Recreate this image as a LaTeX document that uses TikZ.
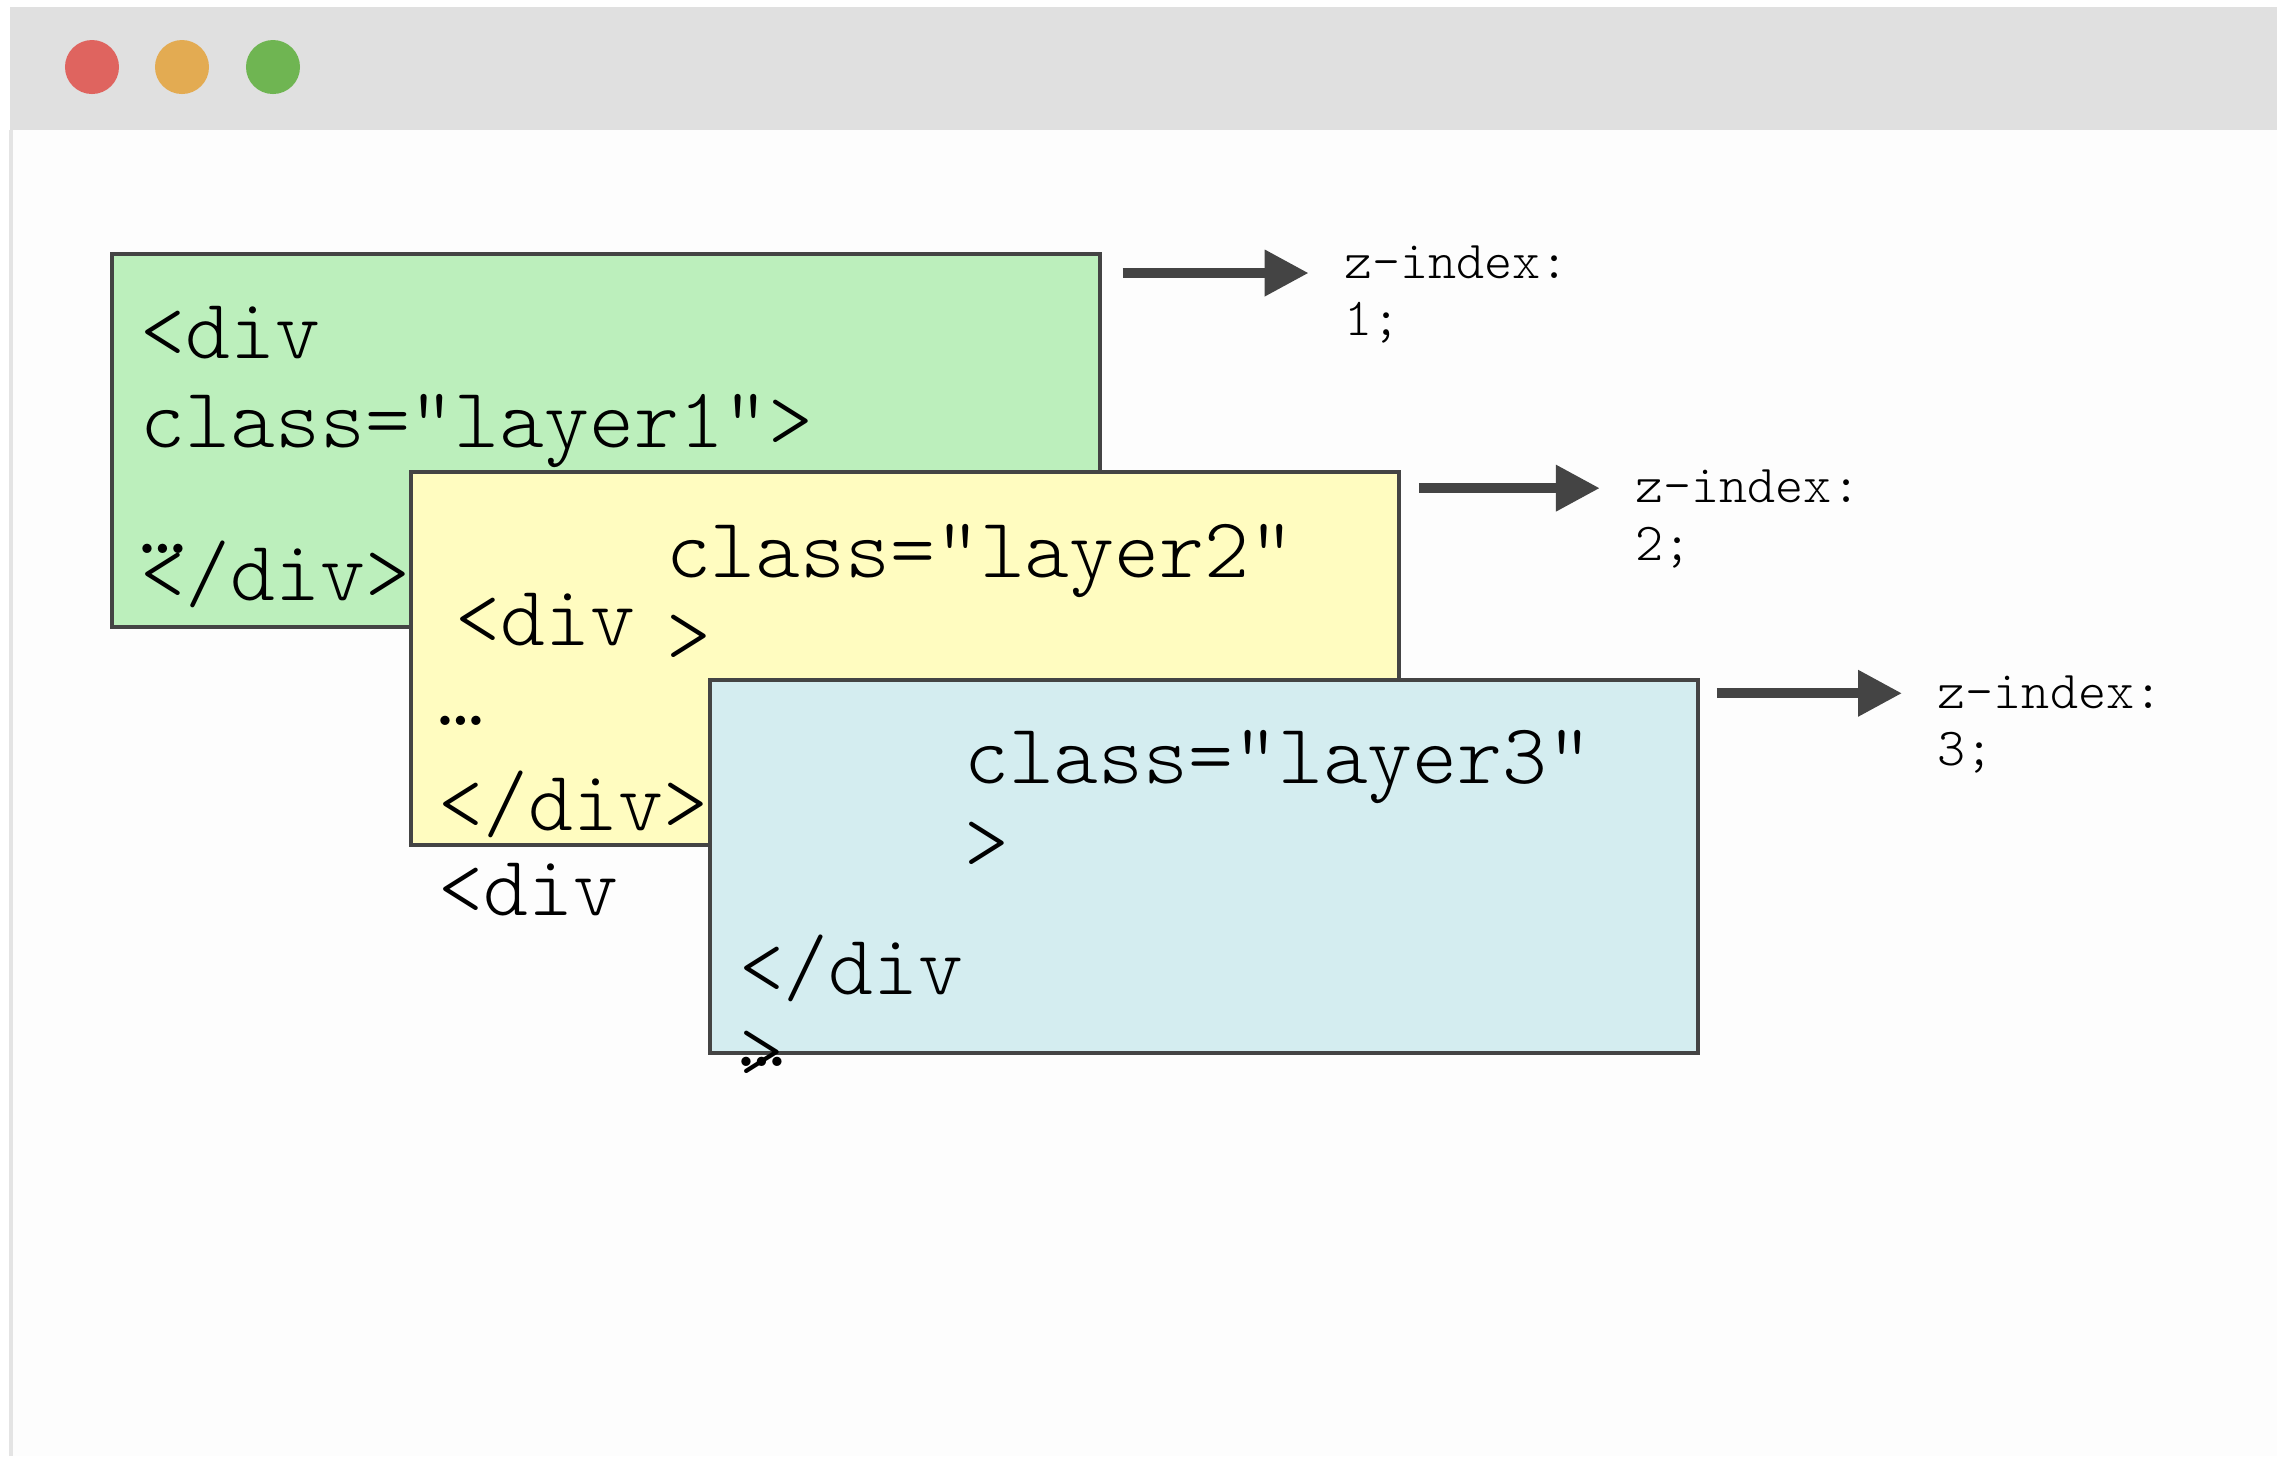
\documentclass[tikz,border=0pt]{standalone}
\usepackage{fontspec}
\setmonofont{Latin Modern Mono Light}
\usetikzlibrary{arrows.meta}

\definecolor{barGray}{HTML}{E0E0E0}
\definecolor{bodyWhite}{HTML}{FDFDFD}
\definecolor{edgeLight}{HTML}{E4E4E4}
\definecolor{edgeGray}{HTML}{444444}
\definecolor{dotRed}{HTML}{DF645F}
\definecolor{dotOrange}{HTML}{E3AB52}
\definecolor{dotGreen}{HTML}{6FB552}
\definecolor{l1Fill}{HTML}{BCEFBC}
\definecolor{l2Fill}{HTML}{FFFCC0}
\definecolor{l3Fill}{HTML}{D4EDF0}

\begin{document}
\begin{tikzpicture}[x=0.01cm,y=-0.01cm,
        layer/.style={draw=edgeGray,line width=0.04cm,minimum width=9.87cm,minimum height=3.73cm,inner sep=0,outer sep=0,anchor=north west},
        code/.style={font=\ttfamily\fontsize{24.3}{29}\selectfont,inner sep=0,anchor=base west},
        zlabel/.style={font=\ttfamily\fontsize{15.2}{18}\selectfont,inner sep=0,anchor=base west},
        zarrow/.style={-{Triangle[length=12.5pt,width=12.5pt]},line width=2.85pt,draw=edgeGray,shorten >=0.35cm}]
            \useasboundingbox (0,0) rectangle (2277,1456);
            \fill[white] (0,0) rectangle (2277,1456);

            % browser window
            \fill[bodyWhite] (10,130) rectangle (2277,1456);
            \fill[barGray] (10,7) rectangle (2277,130);
            \draw[edgeLight, line width=0.03cm] (11,130) -- (11,1456);
            \fill[dotRed] (92,67) circle (0.27cm);
            \fill[dotOrange] (182,67) circle (0.27cm);
            \fill[dotGreen] (273,67) circle (0.27cm);

            % layer 1
            \node[layer, fill=l1Fill] (l1) at (112,254) {};
            \node[code] (l1a) [at = {(l1.north west)}, xshift = 0.28cm, yshift = -1.04cm]{<div};
            \node[code] (l1b) [at = {(l1.north west)}, xshift = 0.28cm, yshift = -1.93cm]{class="layer1">};
            \node[code] (l1c) [at = {(l1.north west)}, xshift = 0.28cm, yshift = -2.99cm]{…};
            \node[code] (l1d) [at = {(l1.north west)}, xshift = 0.28cm, yshift = -3.46cm]{</div>};
            \coordinate (s1) at ([xshift = 0.23cm, yshift = -0.19cm]l1.north east);
            \node[zlabel] (z1) [at = {(l1.north east)}, xshift = 2.44cm, yshift = -0.24cm]{z-index:};
            \node[zlabel] (z1n) [at = {(z1.base west)}, yshift = -0.57cm]{1;};
            \draw[zarrow] (s1) -- (s1 -| z1.west);

            % layer 2
            \node[layer, fill=l2Fill] (l2) [at = {(l1.north west)}, xshift = 2.99cm, yshift = -2.18cm]{};
            \node[code] (l2a) [at = {(l2.north west)}, xshift = 2.54cm, yshift = -1.05cm]{class="layer2"};
            \node[code] (l2b) [at = {(l2.north west)}, xshift = 0.44cm, yshift = -1.73cm]{<div};
            \node[code] (l2c) [at = {(l2.north west)}, xshift = 2.54cm, yshift = -1.90cm]{>};
            \node[code] (l2d) [at = {(l2.north west)}, xshift = 0.27cm, yshift = -2.53cm]{…};
            \node[code] (l2e) [at = {(l2.north west)}, xshift = 0.27cm, yshift = -3.58cm]{</div>};
            \node[code] (l2f) [at = {(l2.north west)}, xshift = 0.27cm, yshift = -4.43cm]{<div};
            \coordinate (s2) at ([xshift = 0.20cm, yshift = -0.16cm]l2.north east);
            \node[zlabel] (z2) [at = {(l2.north east)}, xshift = 2.36cm, yshift = -0.30cm]{z-index:};
            \node[zlabel] (z2n) [at = {(z2.base west)}, yshift = -0.58cm]{2;};
            \draw[zarrow] (s2) -- (s2 -| z2.west);

            % layer 3
            \node[layer, fill=l3Fill] (l3) [at = {(l2.north west)}, xshift = 2.99cm, yshift = -2.08cm]{};
            \node[code] (l3a) [at = {(l3.north west)}, xshift = 2.53cm, yshift = -1.03cm]{class="layer3"};
            \node[code] (l3b) [at = {(l3.north west)}, xshift = 2.53cm, yshift = -1.89cm]{>};
            \node[code] (l3c) [at = {(l3.north west)}, xshift = 0.28cm, yshift = -3.14cm]{</div};
            \node[code] (l3d) [at = {(l3.north west)}, xshift = 0.28cm, yshift = -3.98cm]{>};
            \node[code] (l3e) [at = {(l3.north west)}, xshift = 0.28cm, yshift = -3.86cm]{…};
            \coordinate (s3) at ([xshift = 0.19cm, yshift = -0.13cm]l3.north east);
            \node[zlabel] (z3) [at = {(l3.north east)}, xshift = 2.39cm, yshift = -0.28cm]{z-index:};
            \node[zlabel] (z3n) [at = {(z3.base west)}, yshift = -0.57cm]{3;};
            \draw[zarrow] (s3) -- (s3 -| z3.west);
        \end{tikzpicture}
\end{document}
